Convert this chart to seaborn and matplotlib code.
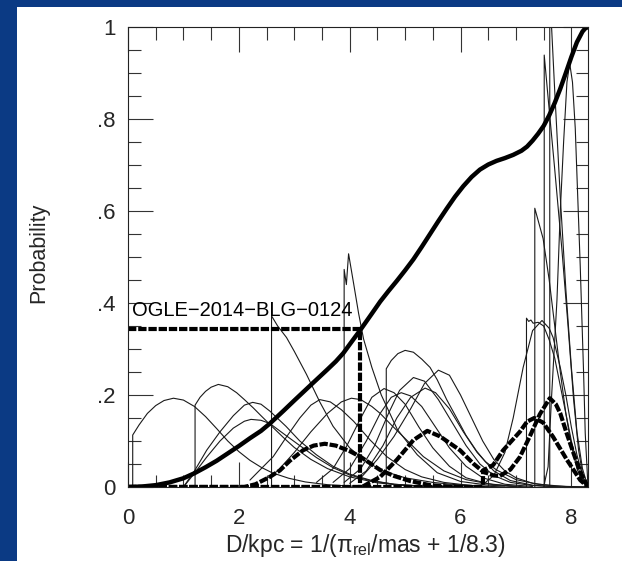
import numpy as np
import pandas as pd
import matplotlib
matplotlib.use("Agg")
import matplotlib.pyplot as plt
import seaborn as sns
from matplotlib.patches import Rectangle
from matplotlib.ticker import MultipleLocator, FixedLocator, FixedFormatter

# ---------------- data ----------------
# thin probability curves: (D/kpc, probability)
c1 = [(0.085, 0), (0.085, 0.113), (0.2, 0.135), (0.35, 0.16), (0.5, 0.177), (0.65, 0.188), (0.82, 0.193),
      (1.0, 0.189), (1.2, 0.175), (1.4, 0.153), (1.6, 0.127), (1.8, 0.1), (2.0, 0.077), (2.2, 0.058),
      (2.4, 0.043), (2.6, 0.031), (2.9, 0.019), (3.2, 0.011), (3.6, 0.005), (4.0, 0.002), (4.5, 0.0)]
c2 = [(1.21, 0), (1.21, 0.178), (1.3, 0.195), (1.4, 0.208), (1.5, 0.217), (1.63, 0.223), (1.8, 0.218),
      (1.96, 0.205), (2.1, 0.19), (2.26, 0.172), (2.4, 0.155), (2.56, 0.136), (2.8, 0.108), (3.0, 0.086),
      (3.3, 0.06), (3.6, 0.04), (4.0, 0.022), (4.5, 0.009), (5.0, 0.003), (5.5, 0.0)]
c3 = [(1.0, 0.0), (1.2, 0.035), (1.42, 0.08), (1.66, 0.12), (1.9, 0.155), (2.1, 0.178), (2.25, 0.184),
      (2.4, 0.18), (2.56, 0.165), (2.85, 0.132), (3.1, 0.1), (3.4, 0.07), (3.7, 0.045), (4.0, 0.028),
      (4.4, 0.014), (4.8, 0.006), (5.3, 0.002), (6.0, 0.0)]
c4 = [(1.0, 0.0), (1.2, 0.03), (1.42, 0.065), (1.66, 0.1), (1.9, 0.128), (2.1, 0.143), (2.22, 0.147),
      (2.4, 0.145), (2.56, 0.138), (2.85, 0.112), (3.1, 0.09), (3.4, 0.064), (3.7, 0.042), (4.0, 0.026),
      (4.4, 0.013), (4.8, 0.006), (5.3, 0.002), (6.0, 0.0)]
c5 = [(2.59, 0), (2.59, 0.372), (2.7, 0.35), (2.86, 0.325), (3.0, 0.295), (3.22, 0.245), (3.46, 0.185),
      (3.7, 0.132), (4.0, 0.085), (4.3, 0.055), (4.6, 0.035), (5.0, 0.02), (5.5, 0.01), (6.0, 0.004),
      (6.5, 0.001)]
c6 = [(3.9, 0), (3.9, 0.473), (3.94, 0.44), (3.98, 0.507), (4.07, 0.443), (4.16, 0.378), (4.25, 0.322),
      (4.4, 0.26), (4.57, 0.2), (4.86, 0.125), (5.22, 0.07), (5.58, 0.031), (6.0, 0.012), (6.5, 0.004),
      (7.0, 0.001)]
c7 = [(2.2, 0.015), (2.38, 0.037), (2.62, 0.066), (2.86, 0.109), (3.1, 0.15), (3.3, 0.178), (3.46, 0.19),
      (3.65, 0.185), (3.85, 0.168), (4.07, 0.143), (4.37, 0.102), (4.67, 0.066), (5.0, 0.038),
      (5.3, 0.022), (5.7, 0.01), (6.2, 0.003), (6.8, 0.0)]
c8 = [(2.4, 0.01), (2.7, 0.035), (3.0, 0.075), (3.3, 0.12), (3.6, 0.16), (3.85, 0.185), (4.03, 0.193),
      (4.2, 0.19), (4.4, 0.175), (4.55, 0.16), (4.75, 0.135), (4.97, 0.109), (5.33, 0.066), (5.7, 0.035),
      (6.1, 0.016), (6.6, 0.005), (7.2, 0.0)]
c9 = [(4.66, 0), (4.66, 0.257), (4.75, 0.275), (4.87, 0.29), (5.0, 0.297), (5.15, 0.293), (5.3, 0.278),
      (5.45, 0.26), (5.58, 0.233), (5.75, 0.19), (5.94, 0.148), (6.1, 0.112), (6.29, 0.078),
      (6.45, 0.055), (6.65, 0.037), (7.0, 0.016), (7.4, 0.006), (7.9, 0.001), (8.3, 0.0)]
c10 = [(4.2, 0.02), (4.5, 0.06), (4.8, 0.11), (5.1, 0.17), (5.35, 0.225), (5.6, 0.254), (5.8, 0.243),
       (6.0, 0.2), (6.2, 0.15), (6.4, 0.1), (6.6, 0.06), (6.8, 0.035), (7.0, 0.02), (7.3, 0.008),
       (7.7, 0.002), (8.3, 0.0)]
c11 = [(3.9, 0.01), (4.2, 0.04), (4.45, 0.09), (4.7, 0.16), (4.9, 0.21), (5.15, 0.238), (5.35, 0.23),
       (5.6, 0.19), (5.85, 0.14), (6.1, 0.09), (6.35, 0.05), (6.6, 0.025), (6.9, 0.01), (7.3, 0.003),
       (7.8, 0.0)]
c12 = [(3.4, 0.01), (3.7, 0.04), (3.95, 0.09), (4.2, 0.15), (4.4, 0.195), (4.62, 0.214), (4.8, 0.205),
       (5.0, 0.18), (5.25, 0.13), (5.5, 0.085), (5.8, 0.045), (6.1, 0.02), (6.5, 0.007), (7.0, 0.001)]
c13 = [(3.7, 0.01), (4.0, 0.04), (4.3, 0.1), (4.55, 0.16), (4.75, 0.195), (4.93, 0.205), (5.1, 0.198),
       (5.3, 0.175), (5.55, 0.13), (5.8, 0.085), (6.1, 0.045), (6.4, 0.02), (6.8, 0.006), (7.3, 0.001)]
c14 = [(4.0, 0.008), (4.3, 0.035), (4.6, 0.09), (4.85, 0.15), (5.1, 0.195), (5.36, 0.215), (5.55, 0.205),
       (5.8, 0.17), (6.05, 0.12), (6.3, 0.075), (6.6, 0.035), (6.9, 0.014), (7.3, 0.004), (7.8, 0.0)]
d1 = [(7.19, 0), (7.19, 0.367), (7.23, 0.36), (7.27, 0.363), (7.31, 0.356), (7.4, 0.358), (7.5, 0.35),
      (7.6, 0.32), (7.7, 0.28), (7.8, 0.22), (7.9, 0.16), (8.0, 0.1), (8.1, 0.05), (8.2, 0.015), (8.3, 0.0)]
d2 = [(6.4, 0.005), (6.6, 0.025), (6.8, 0.075), (6.95, 0.15), (7.13, 0.26), (7.3, 0.34), (7.47, 0.362),
      (7.6, 0.345), (7.67, 0.325), (7.8, 0.26), (7.9, 0.2), (8.0, 0.13), (8.1, 0.07), (8.2, 0.025),
      (8.3, 0.0)]
d3 = [(7.51, 0), (7.51, 0.939), (7.6, 0.82), (7.7, 0.69), (7.83, 0.515), (7.94, 0.35), (8.04, 0.19),
      (8.13, 0.08), (8.22, 0.015), (8.3, 0.0)]
d4 = [(7.61, 0), (7.61, 1.08), (7.7, 0.86), (7.8, 0.63), (7.9, 0.43), (8.0, 0.26), (8.1, 0.12),
      (8.2, 0.04), (8.3, 0.0)]
d5 = [(7.5, 0.0), (7.58, 0.044), (7.64, 0.19), (7.74, 0.407), (7.8, 0.6), (7.86, 0.75), (7.92, 0.88),
      (7.97, 0.921), (8.02, 0.88), (8.07, 0.78), (8.16, 0.48), (8.22, 0.25), (8.25, 0.117), (8.3, 0.0)]
d6 = [(7.34, 0), (7.34, 0.606), (7.49, 0.54), (7.6, 0.45), (7.7, 0.35), (7.8, 0.25), (7.9, 0.16),
      (8.0, 0.09), (8.1, 0.04), (8.2, 0.01), (8.3, 0.0)]
thin_curves = {"c1": c1, "c2": c2, "c3": c3, "c4": c4, "c5": c5, "c6": c6, "c7": c7, "c8": c8,
               "c9": c9, "c10": c10, "c11": c11, "c12": c12, "c13": c13, "c14": c14,
               "d1": d1, "d2": d2, "d3": d3, "d4": d4, "d5": d5, "d6": d6}

# thick dashed curves
t1 = [(0.0, 0.0), (2.1, 0.0), (2.3, 0.006), (2.56, 0.022), (2.74, 0.036), (2.92, 0.057), (3.16, 0.08),
      (3.35, 0.09), (3.55, 0.094), (3.75, 0.09), (4.0, 0.078), (4.19, 0.066), (4.55, 0.037),
      (4.8, 0.024), (5.09, 0.013), (5.45, 0.004), (5.8, 0.001), (6.4, 0.0)]
t2 = [(0.0, 0.0), (4.22, 0.0), (4.55, 0.022), (4.85, 0.059), (5.15, 0.102), (5.4, 0.122), (5.63, 0.11),
      (5.99, 0.08), (6.23, 0.051), (6.41, 0.033), (6.6, 0.025), (6.71, 0.024), (6.9, 0.038),
      (7.07, 0.065), (7.25, 0.11), (7.43, 0.158), (7.61, 0.193), (7.72, 0.18), (7.8, 0.16),
      (7.92, 0.115), (8.04, 0.073), (8.16, 0.033), (8.3, 0.0)]
t3 = [(0.0, 0.0), (6.4, 0.0), (6.41, 0.036), (6.59, 0.048), (6.77, 0.08), (7.07, 0.12), (7.2, 0.142),
      (7.33, 0.15), (7.49, 0.14), (7.67, 0.109), (7.92, 0.059), (8.16, 0.015), (8.3, 0.0)]

# cumulative distribution
cum = [(0.0, 0.0), (0.25, 0.001), (0.5, 0.004), (0.75, 0.01), (1.0, 0.019), (1.2, 0.03), (1.4, 0.043),
       (1.6, 0.057), (1.8, 0.073), (2.0, 0.089), (2.2, 0.106), (2.4, 0.122), (2.56, 0.138), (2.8, 0.165),
       (3.0, 0.188), (3.3, 0.222), (3.585, 0.254), (3.75, 0.273), (3.885, 0.291), (4.0, 0.31),
       (4.19, 0.341), (4.4, 0.377), (4.55, 0.403), (4.7, 0.426), (4.85, 0.448), (5.0, 0.471),
       (5.15, 0.495), (5.3, 0.522), (5.45, 0.55), (5.6, 0.578), (5.75, 0.605), (5.9, 0.631),
       (6.05, 0.654), (6.2, 0.674), (6.35, 0.69), (6.5, 0.701), (6.65, 0.709), (6.8, 0.715),
       (6.95, 0.722), (7.1, 0.731), (7.2, 0.74), (7.3, 0.753), (7.4, 0.768), (7.5, 0.785),
       (7.6, 0.808), (7.7, 0.835), (7.8, 0.866), (7.9, 0.9), (8.0, 0.935), (8.1, 0.967),
       (8.2, 0.99), (8.25, 0.997), (8.3, 1.0)]

# OGLE-2014-BLG-0124 marker
ogle_label = "OGLE\u22122014\u2212BLG\u22120124"
ogle_d = 4.18
ogle_p = 0.343

xticks = [0, 2, 4, 6, 8]
xticklabels = ["0", "2", "4", "6", "8"]
yticks = [0, 0.2, 0.4, 0.6, 0.8, 1.0]
yticklabels = ["0", ".2", ".4", ".6", ".8", "1"]

# ---------------- figure ----------------
sns.set_style("white")
plt.rcParams["font.family"] = ["Liberation Sans", "DejaVu Sans"]
plt.rcParams["mathtext.fontset"] = "custom"
plt.rcParams["mathtext.rm"] = "Liberation Sans"
plt.rcParams["mathtext.it"] = "Liberation Sans:italic"

W, H = 622, 561
fig = plt.figure(figsize=(W / 100, H / 100), dpi=100)
fig.patch.set_facecolor("#0b3a84")
fig.patches.append(Rectangle((17 / W, 0), 1 - 17 / W, 1 - 7 / H, transform=fig.transFigure,
                             facecolor="white", edgecolor="none", zorder=-10))

ax = fig.add_axes([128 / W, 1 - 487 / H, 460 / W, 460 / H])
ax.set_zorder(5)
ax.set_facecolor("white")


def to_df(name, pts):
    return pd.DataFrame({"curve": name, "order": range(len(pts)),
                         "x": [p[0] for p in pts], "y": [p[1] for p in pts]})


thin_df = pd.concat([to_df(k, v) for k, v in thin_curves.items()], ignore_index=True)
sns.lineplot(data=thin_df, x="x", y="y", units="curve", estimator=None, sort=False,
             color="#1a1a1a", lw=0.8, ax=ax, legend=False)

dash = (0, (2.0, 0.45))
for pts in (t1, t2, t3):
    sns.lineplot(data=to_df("t", pts), x="x", y="y", estimator=None, sort=False,
                 color="black", lw=3.0, linestyle=dash, ax=ax, legend=False)

sns.lineplot(data=pd.DataFrame({"x": [0, ogle_d, ogle_d], "y": [ogle_p, ogle_p, 0]}),
             x="x", y="y", estimator=None, sort=False, color="black", lw=3.0,
             linestyle=dash, ax=ax, legend=False)

sns.lineplot(data=to_df("cum", cum), x="x", y="y", estimator=None, sort=False,
             color="black", lw=3.2, ax=ax, legend=False, solid_capstyle="round")

ax.text(0.07, 0.372, ogle_label, fontsize=14.5, color="black", ha="left", va="baseline")

ax.set_xlim(0, 8.3)
ax.set_ylim(0, 1)
ax.xaxis.set_major_locator(FixedLocator(xticks))
ax.xaxis.set_major_formatter(FixedFormatter(xticklabels))
ax.xaxis.set_minor_locator(MultipleLocator(0.5))
ax.yaxis.set_major_locator(FixedLocator(yticks))
ax.yaxis.set_major_formatter(FixedFormatter(yticklabels))
ax.yaxis.set_minor_locator(MultipleLocator(0.05))
ax.tick_params(which="both", direction="in", top=True, right=True, bottom=True, left=True,
               color="#333333", width=0.8, labelsize=16)
ax.tick_params(which="major", length=18)
ax.tick_params(which="minor", length=9)
ax.tick_params(axis="x", which="major", pad=15)
ax.tick_params(axis="y", which="major", pad=9)
for s in ax.spines.values():
    s.set_color("#222222")
    s.set_linewidth(0.8)

ax.set_xlabel("D/kpc = 1/(\u03c0$_{\\rm rel}$/mas + 1/8.3)", fontsize=16.5)
ax.set_ylabel("Probability", fontsize=15.5)
ax.xaxis.set_label_coords(0.515, -0.097)
ax.yaxis.set_label_coords(-0.172, 0.51)

fig.savefig("out.png", dpi=100, facecolor=fig.get_facecolor())
